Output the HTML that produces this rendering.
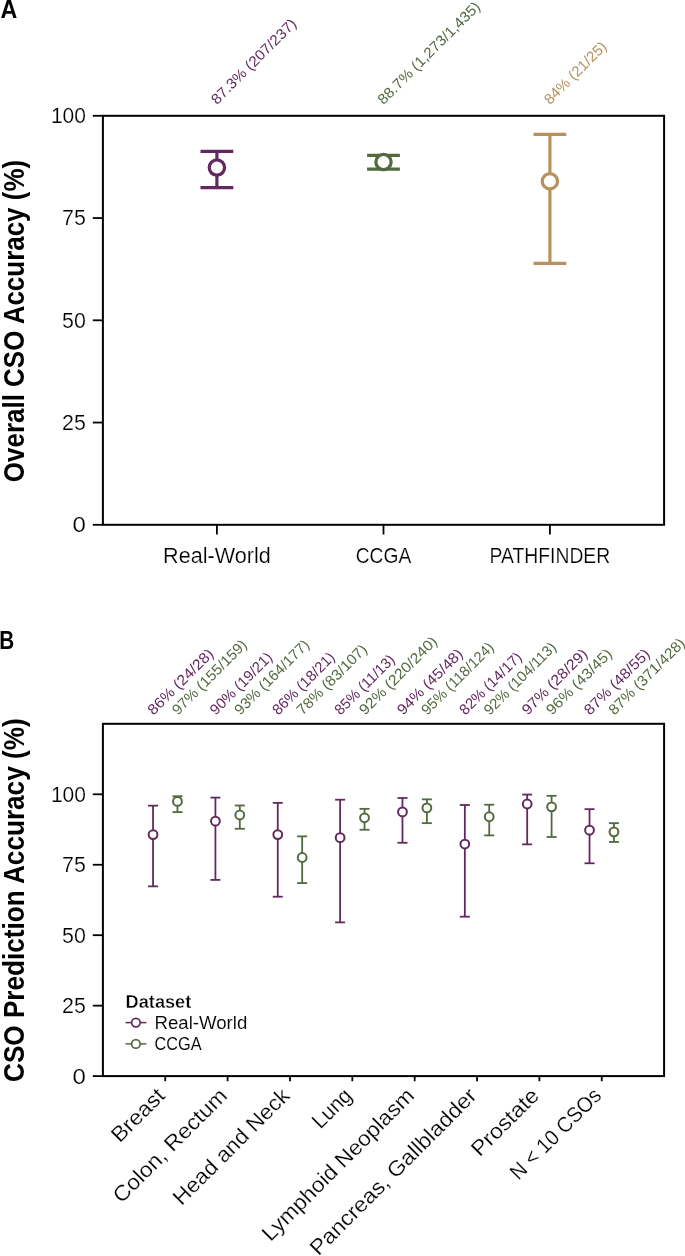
<!DOCTYPE html>
<html><head><meta charset="utf-8"><style>
html,body{margin:0;padding:0;background:#fff;}
svg{display:block;will-change:transform;}
text{font-family:"Liberation Sans",sans-serif;}
</style></head><body>
<svg width="685" height="1256" viewBox="0 0 685 1256">
<rect width="685" height="1256" fill="#fff"/>
<text x="0.60" y="17.80" font-size="25.8" font-weight="bold" textLength="16.80" lengthAdjust="spacingAndGlyphs">A</text>
<line x1="92.8" y1="524.80" x2="102.9" y2="524.80" stroke="#000" stroke-width="1.8"/>
<text x="85.90" y="532.20" font-size="21.8" text-anchor="end" textLength="13.40" lengthAdjust="spacingAndGlyphs" stroke="#fff" stroke-width="0.2">0</text>
<line x1="92.8" y1="422.55" x2="102.9" y2="422.55" stroke="#000" stroke-width="1.8"/>
<text x="85.90" y="429.95" font-size="21.8" text-anchor="end" textLength="23.81" lengthAdjust="spacingAndGlyphs" stroke="#fff" stroke-width="0.2">25</text>
<line x1="92.8" y1="320.30" x2="102.9" y2="320.30" stroke="#000" stroke-width="1.8"/>
<text x="85.90" y="327.70" font-size="21.8" text-anchor="end" textLength="23.81" lengthAdjust="spacingAndGlyphs" stroke="#fff" stroke-width="0.2">50</text>
<line x1="92.8" y1="218.05" x2="102.9" y2="218.05" stroke="#000" stroke-width="1.8"/>
<text x="85.90" y="225.45" font-size="21.8" text-anchor="end" textLength="23.81" lengthAdjust="spacingAndGlyphs" stroke="#fff" stroke-width="0.2">75</text>
<line x1="92.8" y1="115.80" x2="102.9" y2="115.80" stroke="#000" stroke-width="1.8"/>
<text x="85.90" y="123.20" font-size="21.8" text-anchor="end" textLength="35.01" lengthAdjust="spacingAndGlyphs" stroke="#fff" stroke-width="0.2">100</text>
<rect x="102.9" y="115.8" width="561.20" height="409.00" fill="none" stroke="#000" stroke-width="2"/>
<line x1="216.9" y1="524.8" x2="216.9" y2="534.5" stroke="#000" stroke-width="1.8"/>
<text x="216.90" y="562.50" font-size="21.3" text-anchor="middle" textLength="107.70" lengthAdjust="spacingAndGlyphs" stroke="#fff" stroke-width="0.2">Real-World</text>
<line x1="383.5" y1="524.8" x2="383.5" y2="534.5" stroke="#000" stroke-width="1.8"/>
<text x="383.50" y="562.50" font-size="21.3" text-anchor="middle" textLength="55.50" lengthAdjust="spacingAndGlyphs" stroke="#fff" stroke-width="0.2">CCGA</text>
<line x1="549.9" y1="524.8" x2="549.9" y2="534.5" stroke="#000" stroke-width="1.8"/>
<text x="549.90" y="562.50" font-size="21.3" text-anchor="middle" textLength="120.60" lengthAdjust="spacingAndGlyphs" stroke="#fff" stroke-width="0.2">PATHFINDER</text>
<text transform="translate(24.20,321.00) rotate(-90)" font-size="29.5" text-anchor="middle" font-weight="bold" textLength="322.29" lengthAdjust="spacingAndGlyphs">Overall CSO Accuracy (%)</text>
<g stroke="#63285f" stroke-width="3.2" fill="none">
<line x1="216.9" y1="187.68" x2="216.9" y2="151.41"/>
<line x1="200.50" y1="187.68" x2="233.30" y2="187.68"/>
<line x1="200.50" y1="151.41" x2="233.30" y2="151.41"/>
<circle cx="216.9" cy="167.57" r="7.65" fill="#fff" stroke-width="3.25"/>
</g>
<text transform="translate(216.90,105.20) rotate(-45)" font-size="14.6" fill="#63285f" textLength="113.87" lengthAdjust="spacingAndGlyphs">87.3% (207/237)</text>
<g stroke="#53693e" stroke-width="3.2" fill="none">
<line x1="383.5" y1="169.14" x2="383.5" y2="155.46"/>
<line x1="367.10" y1="169.14" x2="399.90" y2="169.14"/>
<line x1="367.10" y1="155.46" x2="399.90" y2="155.46"/>
<circle cx="383.5" cy="161.97" r="7.65" fill="#fff" stroke-width="3.25"/>
</g>
<text transform="translate(383.50,105.20) rotate(-45)" font-size="14.6" fill="#53693e" textLength="138.02" lengthAdjust="spacingAndGlyphs">88.7% (1,273/1,435)</text>
<g stroke="#b7925f" stroke-width="3.2" fill="none">
<line x1="549.9" y1="263.38" x2="549.9" y2="134.36"/>
<line x1="533.50" y1="263.38" x2="566.30" y2="263.38"/>
<line x1="533.50" y1="134.36" x2="566.30" y2="134.36"/>
<circle cx="549.9" cy="181.24" r="7.65" fill="#fff" stroke-width="3.25"/>
</g>
<text transform="translate(549.90,105.20) rotate(-45)" font-size="14.6" fill="#b7925f" textLength="81.59" lengthAdjust="spacingAndGlyphs">84% (21/25)</text>
<text x="-0.80" y="648.60" font-size="25.8" font-weight="bold" textLength="15.00" lengthAdjust="spacingAndGlyphs">B</text>
<line x1="92.8" y1="1076.10" x2="102.9" y2="1076.10" stroke="#000" stroke-width="1.8"/>
<text x="85.90" y="1083.50" font-size="21.8" text-anchor="end" textLength="13.40" lengthAdjust="spacingAndGlyphs" stroke="#fff" stroke-width="0.2">0</text>
<line x1="92.8" y1="1005.65" x2="102.9" y2="1005.65" stroke="#000" stroke-width="1.8"/>
<text x="85.90" y="1013.05" font-size="21.8" text-anchor="end" textLength="23.81" lengthAdjust="spacingAndGlyphs" stroke="#fff" stroke-width="0.2">25</text>
<line x1="92.8" y1="935.20" x2="102.9" y2="935.20" stroke="#000" stroke-width="1.8"/>
<text x="85.90" y="942.60" font-size="21.8" text-anchor="end" textLength="23.81" lengthAdjust="spacingAndGlyphs" stroke="#fff" stroke-width="0.2">50</text>
<line x1="92.8" y1="864.75" x2="102.9" y2="864.75" stroke="#000" stroke-width="1.8"/>
<text x="85.90" y="872.15" font-size="21.8" text-anchor="end" textLength="23.81" lengthAdjust="spacingAndGlyphs" stroke="#fff" stroke-width="0.2">75</text>
<line x1="92.8" y1="794.30" x2="102.9" y2="794.30" stroke="#000" stroke-width="1.8"/>
<text x="85.90" y="801.70" font-size="21.8" text-anchor="end" textLength="35.01" lengthAdjust="spacingAndGlyphs" stroke="#fff" stroke-width="0.2">100</text>
<rect x="102.9" y="723.8" width="561.20" height="352.30" fill="none" stroke="#000" stroke-width="2"/>
<text transform="translate(24.20,900.20) rotate(-90)" font-size="29.5" text-anchor="middle" font-weight="bold" textLength="363.60" lengthAdjust="spacingAndGlyphs">CSO Prediction Accuracy (%)</text>
<line x1="165.26" y1="1076.1" x2="165.26" y2="1081.2" stroke="#000" stroke-width="1.8"/>
<text transform="translate(166.16,1097.00) rotate(-45)" font-size="21.5" text-anchor="end" textLength="65.80" lengthAdjust="spacingAndGlyphs" stroke="#fff" stroke-width="0.2">Breast</text>
<g stroke="#63285f" stroke-width="1.8" fill="none">
<line x1="153.06" y1="886.35" x2="153.06" y2="805.67"/>
<line x1="148.06" y1="886.35" x2="158.06" y2="886.35"/>
<line x1="148.06" y1="805.67" x2="158.06" y2="805.67"/>
<circle cx="153.06" cy="834.56" r="4.4" fill="#fff" stroke-width="2"/>
</g>
<text transform="translate(153.51,715.70) rotate(-45)" font-size="14.8" fill="#63285f" textLength="86.07" lengthAdjust="spacingAndGlyphs">86% (24/28)</text>
<g stroke="#53693e" stroke-width="1.8" fill="none">
<line x1="177.46" y1="812.10" x2="177.46" y2="796.24"/>
<line x1="172.46" y1="812.10" x2="182.46" y2="812.10"/>
<line x1="172.46" y1="796.24" x2="182.46" y2="796.24"/>
<circle cx="177.46" cy="801.39" r="4.4" fill="#fff" stroke-width="2"/>
</g>
<text transform="translate(177.91,715.70) rotate(-45)" font-size="14.8" fill="#53693e" textLength="98.91" lengthAdjust="spacingAndGlyphs">97% (155/159)</text>
<line x1="227.61" y1="1076.1" x2="227.61" y2="1081.2" stroke="#000" stroke-width="1.8"/>
<text transform="translate(228.51,1097.00) rotate(-45)" font-size="21.5" text-anchor="end" textLength="151.40" lengthAdjust="spacingAndGlyphs" stroke="#fff" stroke-width="0.2">Colon, Rectum</text>
<g stroke="#63285f" stroke-width="1.8" fill="none">
<line x1="215.41" y1="879.90" x2="215.41" y2="797.61"/>
<line x1="210.41" y1="879.90" x2="220.41" y2="879.90"/>
<line x1="210.41" y1="797.61" x2="220.41" y2="797.61"/>
<circle cx="215.41" cy="821.14" r="4.4" fill="#fff" stroke-width="2"/>
</g>
<text transform="translate(215.86,715.70) rotate(-45)" font-size="14.8" fill="#63285f" textLength="81.33" lengthAdjust="spacingAndGlyphs">90% (19/21)</text>
<g stroke="#53693e" stroke-width="1.8" fill="none">
<line x1="239.81" y1="828.77" x2="239.81" y2="805.48"/>
<line x1="234.81" y1="828.77" x2="244.81" y2="828.77"/>
<line x1="234.81" y1="805.48" x2="244.81" y2="805.48"/>
<circle cx="239.81" cy="815.00" r="4.4" fill="#fff" stroke-width="2"/>
</g>
<text transform="translate(240.26,715.70) rotate(-45)" font-size="14.8" fill="#53693e" textLength="98.91" lengthAdjust="spacingAndGlyphs">93% (164/177)</text>
<line x1="289.97" y1="1076.1" x2="289.97" y2="1081.2" stroke="#000" stroke-width="1.8"/>
<text transform="translate(290.87,1097.00) rotate(-45)" font-size="21.5" text-anchor="end" textLength="154.56" lengthAdjust="spacingAndGlyphs" stroke="#fff" stroke-width="0.2">Head and Neck</text>
<g stroke="#63285f" stroke-width="1.8" fill="none">
<line x1="277.77" y1="896.71" x2="277.77" y2="802.89"/>
<line x1="272.77" y1="896.71" x2="282.77" y2="896.71"/>
<line x1="272.77" y1="802.89" x2="282.77" y2="802.89"/>
<circle cx="277.77" cy="834.56" r="4.4" fill="#fff" stroke-width="2"/>
</g>
<text transform="translate(278.22,715.70) rotate(-45)" font-size="14.8" fill="#63285f" textLength="81.33" lengthAdjust="spacingAndGlyphs">86% (18/21)</text>
<g stroke="#53693e" stroke-width="1.8" fill="none">
<line x1="302.17" y1="883.10" x2="302.17" y2="836.38"/>
<line x1="297.17" y1="883.10" x2="307.17" y2="883.10"/>
<line x1="297.17" y1="836.38" x2="307.17" y2="836.38"/>
<circle cx="302.17" cy="857.51" r="4.4" fill="#fff" stroke-width="2"/>
</g>
<text transform="translate(302.62,715.70) rotate(-45)" font-size="14.8" fill="#53693e" textLength="92.49" lengthAdjust="spacingAndGlyphs">78% (83/107)</text>
<line x1="352.32" y1="1076.1" x2="352.32" y2="1081.2" stroke="#000" stroke-width="1.8"/>
<text transform="translate(353.22,1097.00) rotate(-45)" font-size="21.5" text-anchor="end" textLength="46.19" lengthAdjust="spacingAndGlyphs" stroke="#fff" stroke-width="0.2">Lung</text>
<g stroke="#63285f" stroke-width="1.8" fill="none">
<line x1="340.12" y1="922.37" x2="340.12" y2="799.71"/>
<line x1="335.12" y1="922.37" x2="345.12" y2="922.37"/>
<line x1="335.12" y1="799.71" x2="345.12" y2="799.71"/>
<circle cx="340.12" cy="837.65" r="4.4" fill="#fff" stroke-width="2"/>
</g>
<text transform="translate(340.57,715.70) rotate(-45)" font-size="14.8" fill="#63285f" textLength="77.79" lengthAdjust="spacingAndGlyphs">85% (11/13)</text>
<g stroke="#53693e" stroke-width="1.8" fill="none">
<line x1="364.52" y1="829.74" x2="364.52" y2="808.85"/>
<line x1="359.52" y1="829.74" x2="369.52" y2="829.74"/>
<line x1="359.52" y1="808.85" x2="369.52" y2="808.85"/>
<circle cx="364.52" cy="817.78" r="4.4" fill="#fff" stroke-width="2"/>
</g>
<text transform="translate(364.97,715.70) rotate(-45)" font-size="14.8" fill="#53693e" textLength="103.65" lengthAdjust="spacingAndGlyphs">92% (220/240)</text>
<line x1="414.68" y1="1076.1" x2="414.68" y2="1081.2" stroke="#000" stroke-width="1.8"/>
<text transform="translate(415.58,1097.00) rotate(-45)" font-size="21.5" text-anchor="end" textLength="205.29" lengthAdjust="spacingAndGlyphs" stroke="#fff" stroke-width="0.2">Lymphoid Neoplasm</text>
<g stroke="#63285f" stroke-width="1.8" fill="none">
<line x1="402.48" y1="842.76" x2="402.48" y2="797.99"/>
<line x1="397.48" y1="842.76" x2="407.48" y2="842.76"/>
<line x1="397.48" y1="797.99" x2="407.48" y2="797.99"/>
<circle cx="402.48" cy="811.91" r="4.4" fill="#fff" stroke-width="2"/>
</g>
<text transform="translate(402.93,715.70) rotate(-45)" font-size="14.8" fill="#63285f" textLength="86.07" lengthAdjust="spacingAndGlyphs">94% (45/48)</text>
<g stroke="#53693e" stroke-width="1.8" fill="none">
<line x1="426.88" y1="823.14" x2="426.88" y2="799.36"/>
<line x1="421.88" y1="823.14" x2="431.88" y2="823.14"/>
<line x1="421.88" y1="799.36" x2="431.88" y2="799.36"/>
<circle cx="426.88" cy="807.94" r="4.4" fill="#fff" stroke-width="2"/>
</g>
<text transform="translate(427.33,715.70) rotate(-45)" font-size="14.8" fill="#53693e" textLength="95.37" lengthAdjust="spacingAndGlyphs">95% (118/124)</text>
<line x1="477.03" y1="1076.1" x2="477.03" y2="1081.2" stroke="#000" stroke-width="1.8"/>
<text transform="translate(477.93,1097.00) rotate(-45)" font-size="21.5" text-anchor="end" textLength="225.59" lengthAdjust="spacingAndGlyphs" stroke="#fff" stroke-width="0.2">Pancreas, Gallbladder</text>
<g stroke="#63285f" stroke-width="1.8" fill="none">
<line x1="464.83" y1="916.69" x2="464.83" y2="805.00"/>
<line x1="459.83" y1="916.69" x2="469.83" y2="916.69"/>
<line x1="459.83" y1="805.00" x2="469.83" y2="805.00"/>
<circle cx="464.83" cy="844.03" r="4.4" fill="#fff" stroke-width="2"/>
</g>
<text transform="translate(465.28,715.70) rotate(-45)" font-size="14.8" fill="#63285f" textLength="81.33" lengthAdjust="spacingAndGlyphs">82% (14/17)</text>
<g stroke="#53693e" stroke-width="1.8" fill="none">
<line x1="489.23" y1="835.39" x2="489.23" y2="804.75"/>
<line x1="484.23" y1="835.39" x2="494.23" y2="835.39"/>
<line x1="484.23" y1="804.75" x2="494.23" y2="804.75"/>
<circle cx="489.23" cy="816.74" r="4.4" fill="#fff" stroke-width="2"/>
</g>
<text transform="translate(489.68,715.70) rotate(-45)" font-size="14.8" fill="#53693e" textLength="95.37" lengthAdjust="spacingAndGlyphs">92% (104/113)</text>
<line x1="539.39" y1="1076.1" x2="539.39" y2="1081.2" stroke="#000" stroke-width="1.8"/>
<text transform="translate(540.29,1097.00) rotate(-45)" font-size="21.5" text-anchor="end" textLength="85.70" lengthAdjust="spacingAndGlyphs" stroke="#fff" stroke-width="0.2">Prostate</text>
<g stroke="#63285f" stroke-width="1.8" fill="none">
<line x1="527.19" y1="844.36" x2="527.19" y2="794.55"/>
<line x1="522.19" y1="844.36" x2="532.19" y2="844.36"/>
<line x1="522.19" y1="794.55" x2="532.19" y2="794.55"/>
<circle cx="527.19" cy="804.02" r="4.4" fill="#fff" stroke-width="2"/>
</g>
<text transform="translate(527.64,715.70) rotate(-45)" font-size="14.8" fill="#63285f" textLength="86.07" lengthAdjust="spacingAndGlyphs">97% (28/29)</text>
<g stroke="#53693e" stroke-width="1.8" fill="none">
<line x1="551.59" y1="836.99" x2="551.59" y2="795.83"/>
<line x1="546.59" y1="836.99" x2="556.59" y2="836.99"/>
<line x1="546.59" y1="795.83" x2="556.59" y2="795.83"/>
<circle cx="551.59" cy="806.82" r="4.4" fill="#fff" stroke-width="2"/>
</g>
<text transform="translate(552.04,715.70) rotate(-45)" font-size="14.8" fill="#53693e" textLength="86.07" lengthAdjust="spacingAndGlyphs">96% (43/45)</text>
<line x1="601.74" y1="1076.1" x2="601.74" y2="1081.2" stroke="#000" stroke-width="1.8"/>
<text transform="translate(602.64,1097.00) rotate(-45)" font-size="21.5" text-anchor="end" textLength="118.90" lengthAdjust="spacingAndGlyphs" stroke="#fff" stroke-width="0.2">N &lt; 10 CSOs</text>
<g stroke="#63285f" stroke-width="1.8" fill="none">
<line x1="589.54" y1="863.29" x2="589.54" y2="809.16"/>
<line x1="584.54" y1="863.29" x2="594.54" y2="863.29"/>
<line x1="584.54" y1="809.16" x2="594.54" y2="809.16"/>
<circle cx="589.54" cy="830.17" r="4.4" fill="#fff" stroke-width="2"/>
</g>
<text transform="translate(589.99,715.70) rotate(-45)" font-size="14.8" fill="#63285f" textLength="86.07" lengthAdjust="spacingAndGlyphs">87% (48/55)</text>
<g stroke="#53693e" stroke-width="1.8" fill="none">
<line x1="613.94" y1="841.95" x2="613.94" y2="823.17"/>
<line x1="608.94" y1="841.95" x2="618.94" y2="841.95"/>
<line x1="608.94" y1="823.17" x2="618.94" y2="823.17"/>
<circle cx="613.94" cy="831.83" r="4.4" fill="#fff" stroke-width="2"/>
</g>
<text transform="translate(614.39,715.70) rotate(-45)" font-size="14.8" fill="#53693e" textLength="101.28" lengthAdjust="spacingAndGlyphs">87% (371/428)</text>
<text x="125.60" y="1007.50" font-size="17.5" font-weight="bold" textLength="65.70" lengthAdjust="spacingAndGlyphs" stroke="#fff" stroke-width="0.3">Dataset</text>
<line x1="125.5" y1="1022.6" x2="146.4" y2="1022.6" stroke="#63285f" stroke-width="1.5"/>
<circle cx="135.9" cy="1022.6" r="4.3" fill="#fff" stroke="#63285f" stroke-width="1.7"/>
<text x="154.50" y="1028.90" font-size="18" textLength="92.80" lengthAdjust="spacingAndGlyphs" stroke="#fff" stroke-width="0.1">Real-World</text>
<line x1="125.5" y1="1043.9" x2="146.4" y2="1043.9" stroke="#53693e" stroke-width="1.5"/>
<circle cx="135.9" cy="1043.9" r="4.3" fill="#fff" stroke="#53693e" stroke-width="1.7"/>
<text x="154.50" y="1050.20" font-size="18" textLength="47.20" lengthAdjust="spacingAndGlyphs" stroke="#fff" stroke-width="0.1">CCGA</text>
</svg>
</body></html>
